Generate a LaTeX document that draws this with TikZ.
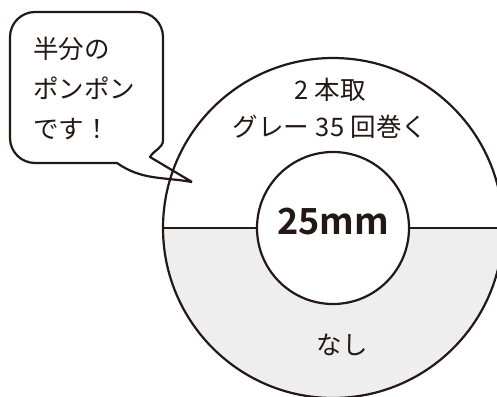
\documentclass[tikz,border=0pt]{standalone}
\usepackage{fontspec}
\setmainfont{Noto Sans CJK JP}
\newfontfamily\numfont{Noto Sans CJK JP}[BoldFont=* Bold]
\usetikzlibrary{positioning}
\definecolor{ink}{HTML}{231815}
\definecolor{pale}{HTML}{EEEEEE}

\begin{document}
\begin{tikzpicture}[x=1pt,y=1pt,
  outline/.style={draw=ink, line width=2.2pt},
  jtext/.style={text=ink, font=\fontsize{25.5}{40}\selectfont, inner sep=0pt}]
\useasboundingbox (0,0) rectangle (497,396);
\clip (0,0) rectangle (497,396);

% lower half grey
\fill[pale] (163,168) arc[start angle=180,end angle=360,radius=170] -- cycle;
\draw[outline] (333,168) circle[radius=170];
\draw[outline] (163,168) -- (503,168);
\draw[outline, fill=white] (333,168) circle[radius=76];

% speech bubble
\draw[outline, line join=round] (192,214) -- (150,239) to[out=60,in=-90] (163,256)
  -- (163,359) arc[start angle=0,end angle=90,radius=25]
  -- (35,384) arc[start angle=90,end angle=180,radius=25]
  -- (10,258) arc[start angle=180,end angle=270,radius=25]
  -- (117,233) to[out=-35,in=170] (192,214);

\node[jtext, align=left, anchor=west] (bubble) at (33,308) {半分の\\ポンポン\\です！};
\node[jtext] (pairs) at (330,306) {2\hspace{0.25em}本取};
\node[jtext] (wraps) at (330,269) {グレー\hspace{0.25em}35\hspace{0.25em}回巻く};
\node[text=ink, font=\numfont\bfseries\fontsize{36}{40}\selectfont, inner sep=0pt] (size) at (333,174) {25mm};
\node[jtext] (none) at (342,51) {なし};
\end{tikzpicture}
\end{document}
